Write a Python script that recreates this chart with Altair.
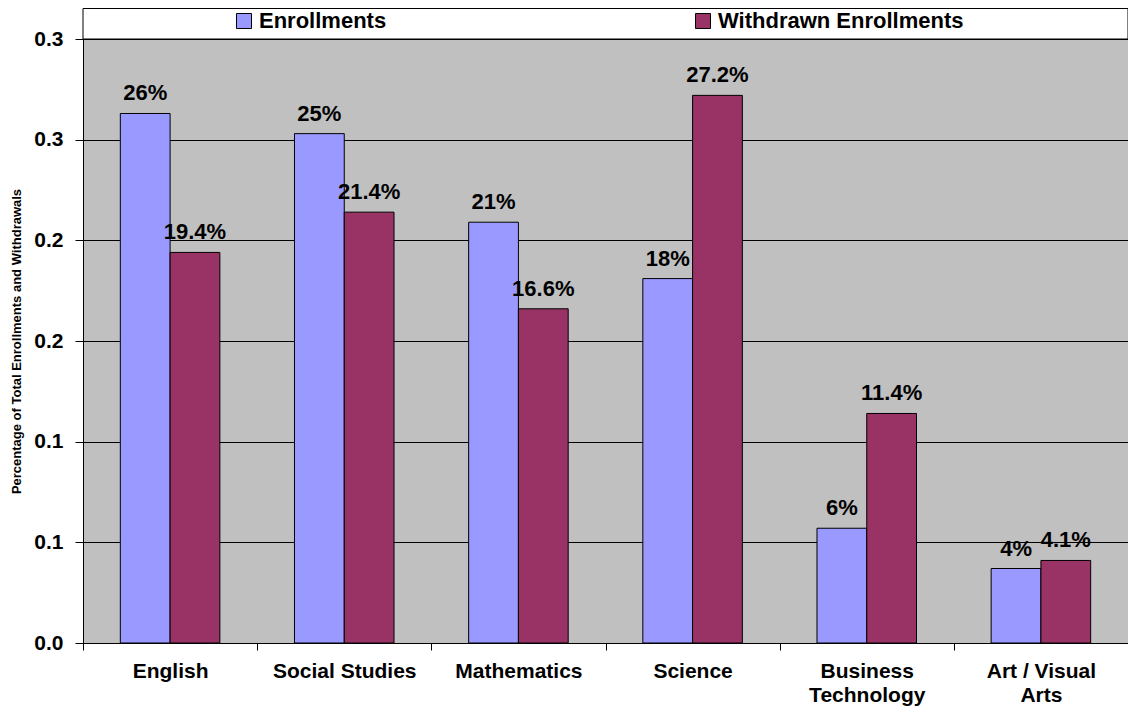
import altair as alt
import pandas as pd

categories = ["English", "Social Studies", "Mathematics", "Science",
              "Business Technology", "Art / Visual Arts"]
category_lines = [["English"], ["Social Studies"], ["Mathematics"], ["Science"],
                  ["Business", "Technology"], ["Art / Visual", "Arts"]]
series = ["Enrollments", "Withdrawn Enrollments"]
enrollments = [0.263, 0.253, 0.209, 0.181, 0.057, 0.037]
withdrawn = [0.194, 0.214, 0.166, 0.272, 0.114, 0.041]
enroll_labels = ["26%", "25%", "21%", "18%", "6%", "4%"]
withdrawn_labels = ["19.4%", "21.4%", "16.6%", "27.2%", "11.4%", "4.1%"]
tick_values = [0.0, 0.05, 0.10, 0.15, 0.20, 0.25, 0.30]
tick_labels = ["0.0", "0.1", "0.1", "0.2", "0.2", "0.3", "0.3"]
colors = ["#9999FF", "#993366"]

rows = []
for i, c in enumerate(categories):
    rows.append({"category": c, "series": series[0], "value": enrollments[i], "label": enroll_labels[i]})
    rows.append({"category": c, "series": series[1], "value": withdrawn[i], "label": withdrawn_labels[i]})
df = pd.DataFrame(rows)

FONT = "Arial, Liberation Sans, sans-serif"

def js_list(xs):
    return "[" + ",".join(repr(x) if not isinstance(x, list) else js_list(x) for x in xs) + "]"

x_label_expr = f"{js_list(category_lines)}[indexof({js_list(categories)}, datum.label)]"
y_label_expr = f"{js_list(tick_labels)}[round(datum.value / 0.05)]"

W, H = 1045, 604

base = alt.Chart(df).encode(
    x=alt.X("category:N", sort=categories,
            scale=alt.Scale(paddingInner=0, paddingOuter=0),
            axis=alt.Axis(title=None, labelExpr=x_label_expr, labelAngle=0,
                          tickBand="extent", tickSize=7, tickColor="black",
                          domainColor="black", labelFont=FONT, labelFontSize=21,
                          labelFontWeight="bold", labelColor="black",
                          labelPadding=10, labelLineHeight=24, grid=False)),
    xOffset=alt.XOffset("series:N", sort=series,
                        scale=alt.Scale(paddingOuter=0.75, paddingInner=0)),
    y=alt.Y("value:Q", scale=alt.Scale(domain=[0, 0.3], nice=False, zero=True),
            axis=alt.Axis(title="Percentage of Total Enrollments  and Withdrawals",
                          values=tick_values, labelExpr=y_label_expr,
                          grid=True, gridColor="black", gridWidth=1,
                          tickSize=8, tickColor="black", domainColor="black",
                          labelFont=FONT, labelFontSize=21, labelFontWeight="bold",
                          labelColor="black", labelPadding=12,
                          titleFont=FONT, titleFontSize=13, titleFontWeight="bold",
                          titleColor="black", titleX=-67, titleBaseline="middle")),
)

legend_box = alt.Chart(alt.Data(values=[{"a": 1}])).mark_rect(
    fill="white", stroke="black", strokeWidth=1
).encode(x=alt.value(0), x2=alt.value(W), y=alt.value(-30.5), y2=alt.value(0))

bars = base.mark_bar(stroke="black", strokeWidth=1).encode(
    color=alt.Color("series:N", sort=series,
                    scale=alt.Scale(domain=series, range=colors),
                    legend=alt.Legend(title=None, orient="none", legendX=150, legendY=-29,
                                      direction="horizontal", symbolType="square",
                                      symbolSize=225, symbolStrokeColor="black",
                                      symbolStrokeWidth=1, labelFont=FONT,
                                      labelFontSize=22, labelFontWeight="bold",
                                      labelColor="black", labelOffset=4,
                                      labelLimit=600,
                                      columnPadding=305, padding=0))
)

text = base.mark_text(dy=-13, baseline="alphabetic", align="center", font=FONT,
                      fontSize=22, fontWeight="bold", color="black").encode(
    text="label:N"
)

chart = alt.layer(legend_box, bars, text).properties(
    width=W, height=H,
    autosize=alt.AutoSizeParams(type="none"),
    padding={"left": 75, "top": 31, "right": 0, "bottom": 69},
    background="white",
).configure_view(fill="#C0C0C0", stroke="black", strokeWidth=1)

chart.save("out.html", embed_options={"renderer": "svg", "actions": False})
